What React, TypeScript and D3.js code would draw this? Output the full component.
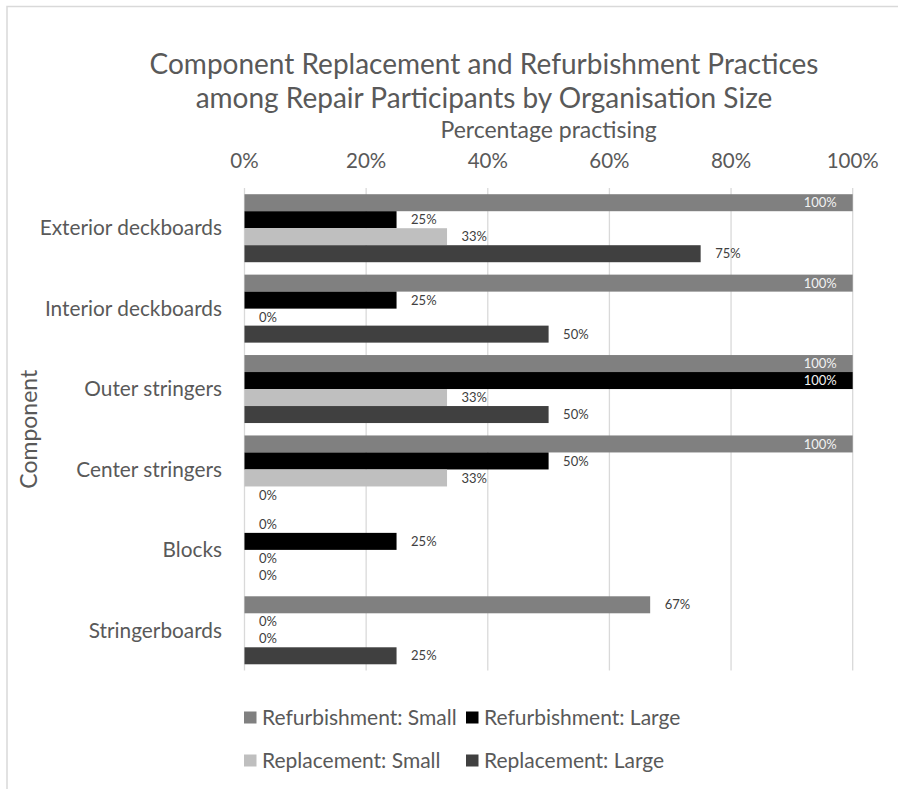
import React from "react";
import * as d3 from "d3";

const titleLines = [
  "Component Replacement and Refurbishment Practices",
  "among Repair Participants by Organisation Size",
];
const xAxisTitle = "Percentage practising";
const yAxisTitle = "Component";
const categories = [
  "Exterior deckboards",
  "Interior deckboards",
  "Outer stringers",
  "Center stringers",
  "Blocks",
  "Stringerboards",
];
const seriesNames = [
  "Refurbishment: Small",
  "Refurbishment: Large",
  "Replacement: Small",
  "Replacement: Large",
];
const seriesColors = ["#808080", "#000000", "#bfbfbf", "#404040"];
const refurbSmall = [1, 1, 1, 1, 0, 0.667];
const refurbLarge = [0.25, 0.25, 1, 0.5, 0.25, 0];
const replaceSmall = [0.333, 0, 0.333, 0.333, 0, 0];
const replaceLarge = [0.75, 0.5, 0.5, 0, 0, 0.25];
const tickValues = [0, 0.2, 0.4, 0.6, 0.8, 1];

const W = 898;
const H = 789;
const FONT = "Lato, 'Open Sans', sans-serif";
const TXT = "#595959";

export default function App() {
  const series = [refurbSmall, refurbLarge, replaceSmall, replaceLarge];
  const x = d3.scaleLinear().domain([0, 1]).range([244.5, 852.7]);
  const y = d3.scaleBand<string>().domain(categories).range([188, 670.5]).padding(0);
  const inner = d3
    .scaleBand<number>()
    .domain(d3.range(series.length))
    .range([0, y.bandwidth()])
    .paddingInner(0)
    .paddingOuter(0.365);
  const fmt = (v: number) => `${Math.round(v * 100)}%`;
  const plotCenter = (x.range()[0] + x.range()[1]) / 2;
  const [y0, y1] = y.range();

  const legendRows = [
    [0, 1],
    [2, 3],
  ];
  const legendX = [244, 466];
  const legendY = [717.5, 760.5];

  return (
    <svg
      width={W}
      height={H}
      style={{ position: "absolute", left: 0, top: 0, background: "#fff" }}
      fontFamily={FONT}
    >
      <rect x={0} y={0} width={W} height={H} fill="#fff" />
      <rect x={7} y={6.5} width={W + 50} height={H + 50} fill="none" stroke="#d9d9d9" strokeWidth={1.5} />

      {titleLines.map((t, i) => (
        <text key={t} x={484} y={74 + i * 34} textAnchor="middle" fontSize={28} fill={TXT}>
          {t}
        </text>
      ))}
      <text x={plotCenter} y={138} textAnchor="middle" fontSize={23} fill={TXT}>
        {xAxisTitle}
      </text>
      <text
        transform={`translate(${37},${(y0 + y1) / 2}) rotate(-90)`}
        textAnchor="middle"
        fontSize={23}
        fill={TXT}
      >
        {yAxisTitle}
      </text>

      {tickValues.map((t) => (
        <g key={t}>
          <line x1={x(t)} x2={x(t)} y1={y0} y2={y1} stroke="#d9d9d9" strokeWidth={1.3} />
          <text x={x(t)} y={168} textAnchor="middle" fontSize={20.5} fill={TXT}>
            {fmt(t)}
          </text>
        </g>
      ))}

      {categories.map((c) => (
        <text
          key={c}
          x={222}
          y={(y(c) as number) + y.bandwidth() / 2}
          dy="0.35em"
          textAnchor="end"
          fontSize={20.8}
          fill={TXT}
        >
          {c}
        </text>
      ))}

      {categories.map((c, ci) =>
        series.map((s, si) => {
          const v = s[ci];
          const by = (y(c) as number) + (inner(si) as number);
          const bh = inner.bandwidth();
          const inside = v >= 0.95;
          return (
            <g key={`${c}-${si}`}>
              {v > 0 && (
                <rect x={x(0)} y={by} width={x(v) - x(0)} height={bh} fill={seriesColors[si]} />
              )}
              <text
                x={inside ? x(v) - 16 : x(v) + 14.5}
                y={by + bh / 2}
                dy="0.35em"
                textAnchor={inside ? "end" : "start"}
                fontSize={13}
                fill={inside ? "#f2f2f2" : "#404040"}
              >
                {fmt(v)}
              </text>
            </g>
          );
        })
      )}

      {legendRows.map((row, ri) =>
        row.map((si, ci) => (
          <g key={si}>
            <rect
              x={legendX[ci]}
              y={legendY[ri] - 6}
              width={12.5}
              height={12}
              fill={seriesColors[si]}
            />
            <text
              x={legendX[ci] + 18}
              y={legendY[ri]}
              dy="0.35em"
              fontSize={21}
              fill={TXT}
            >
              {seriesNames[si]}
            </text>
          </g>
        ))
      )}
    </svg>
  );
}
